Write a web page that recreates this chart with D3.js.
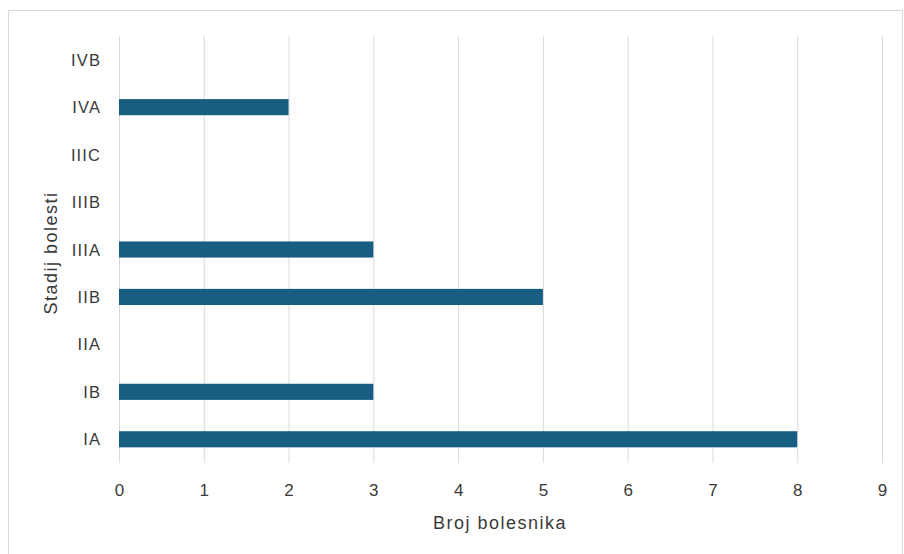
<!DOCTYPE html>
<html><head><meta charset="utf-8">
<script src="https://cdn.jsdelivr.net/npm/d3@7"></script>
<style>body{margin:0;background:#fff}svg{display:block}text{font-family:"Liberation Sans",Arial,sans-serif;fill:#3a3a3a}</style>
</head><body>
<svg id="c" width="904" height="554"></svg>
<script>
const categories = ["IVB","IVA","IIIC","IIIB","IIIA","IIB","IIA","IB","IA"];
const values = [0,2,0,0,3,5,0,3,8];
const xTicks = [0,1,2,3,4,5,6,7,8,9];
const xTitle = "Broj bolesnika";
const yTitle = "Stadij bolesti";

const svg = d3.select("#c");
svg.append("rect").attr("x",8.5).attr("y",10.5).attr("width",894).attr("height",560)
  .attr("fill","none").attr("stroke","#d9d9d9");

const x = d3.scaleLinear().domain([0,9]).range([119,882]);
const y = d3.scaleBand().domain(categories).range([36,463]).paddingInner(0.66).paddingOuter(0.33);

svg.append("g").selectAll("line").data(xTicks).join("line")
  .attr("x1",d=>x(d)+0.5).attr("x2",d=>x(d)+0.5).attr("y1",36).attr("y2",463)
  .attr("stroke","#d9d9d9");

svg.append("g").selectAll("rect").data(categories).join("rect")
  .attr("x",x(0)).attr("y",d=>y(d)).attr("height",y.bandwidth())
  .attr("width",(d,i)=>x(values[i])-x(0)).attr("fill","#175e82");

svg.append("g").selectAll("text").data(xTicks).join("text")
  .attr("x",d=>x(d)+0.5).attr("y",496).attr("text-anchor","middle")
  .attr("font-size",17).text(d=>d);

svg.append("g").selectAll("text").data(categories).join("text")
  .attr("x",101).attr("y",d=>y(d)+y.bandwidth()/2+6).attr("text-anchor","end")
  .attr("font-size",16.5).attr("letter-spacing",1.1).text(d=>d);

svg.append("text").attr("x",500).attr("y",529).attr("text-anchor","middle")
  .attr("font-size",18).attr("letter-spacing",1.5).text(xTitle);
svg.append("text").attr("transform","translate(57,253) rotate(-90)").attr("text-anchor","middle")
  .attr("font-size",18).attr("letter-spacing",1.5).text(yTitle);
</script>
</body></html>
